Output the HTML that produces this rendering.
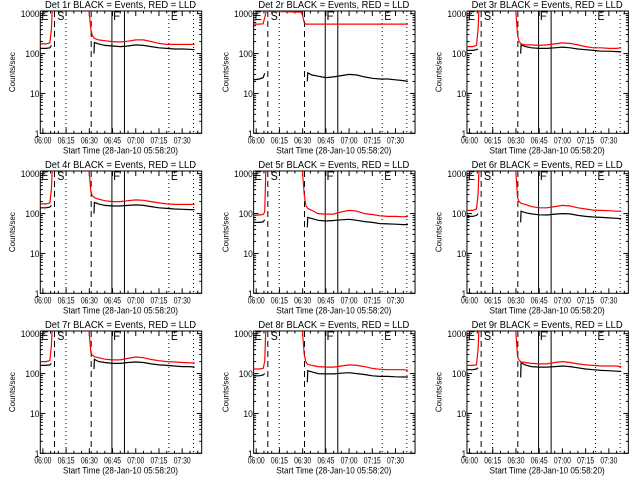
<!DOCTYPE html>
<html><head><meta charset="utf-8"><style>
html,body{margin:0;padding:0;background:#fff;}
svg{display:block;font-family:"Liberation Sans",sans-serif;}
</style></head><body>
<svg id="chart" width="640" height="480" viewBox="0 0 640 480" xmlns="http://www.w3.org/2000/svg">
<rect width="640" height="480" fill="#fff"/>
</svg>
<script>
const times = [-1.7, 2, 4.5, 5.5, 6.5, 29, 30, 31, 32, 33, 33.3, 36, 40, 45, 50, 55, 60, 65, 70, 75, 80, 85, 90, 95, 98];
const detectors = ["1r","2r","3r","4r","5r","6r","7r","8r","9r"];
const red1 = [175,175,185,400,3000,3000,1000,400,280,250,240,220,210,200,195,205,220,220,200,180,170,170,170,170,170];
const blk1 = [135,135,140,160,null,null,null,null,null,100,190,175,160,155,150,155,165,160,150,140,135,130,130,128,125];
const red2 = [550,550,560,800,1150,1100,900,600,550,550,550,550,550,550,550,550,550,550,550,550,550,550,550,550,550];
const blk2 = [22,23,25,32,null,null,null,null,null,20,33,29,27,25,26,28,30,29,26,24,23,23,22,21,20];
const red3 = [150,150,160,400,3000,3000,1000,300,200,180,175,165,165,160,165,175,185,180,165,150,140,140,135,135,140];
const blk3 = [120,120,125,130,null,null,null,null,null,100,165,150,140,135,135,140,145,140,130,125,120,115,115,112,110];
const red4 = [175,175,185,400,3000,3000,1000,350,280,260,250,230,210,200,200,210,220,215,200,185,175,170,170,170,170];
const blk4 = [140,140,145,160,null,null,null,null,null,100,190,175,160,155,155,160,165,160,150,140,135,130,128,126,125];
const red5 = [90,92,95,110,3000,3000,1000,300,160,140,135,120,100,97,97,110,120,115,100,95,88,85,85,83,85];
const blk5 = [60,60,62,70,null,null,null,null,null,45,80,75,68,65,67,70,72,68,63,60,56,55,54,53,53];
const red6 = [120,120,130,300,3000,3000,1000,250,200,185,180,170,150,140,140,150,160,155,140,130,122,120,118,115,115];
const blk6 = [85,85,90,100,null,null,null,null,null,60,115,105,98,93,92,97,100,98,90,85,82,80,78,76,75];
const red7 = [200,200,210,500,3000,3000,1000,330,290,270,265,250,230,220,220,240,260,250,225,210,200,195,190,185,185];
const blk7 = [160,160,165,180,null,null,null,null,null,130,230,200,190,180,180,190,195,190,175,165,160,155,150,150,145];
const red8 = [130,130,135,200,3000,3000,1000,300,200,175,170,160,150,145,145,155,165,160,150,135,128,125,125,125,120];
const blk8 = [88,88,92,100,null,null,null,null,null,60,118,110,100,98,98,102,105,100,95,88,85,85,83,82,82];
const red9 = [160,160,165,400,3000,3000,1000,260,220,200,198,190,180,175,175,190,200,190,175,165,160,155,155,155,150];
const blk9 = [125,125,130,140,null,null,null,null,null,80,185,165,150,145,145,150,155,150,140,130,125,120,118,115,113];
const redSeries = [red1,red2,red3,red4,red5,red6,red7,red8,red9];
const blackSeries = [blk1,blk2,blk3,blk4,blk5,blk6,blk7,blk8,blk9];
const xTickMinutes = [0,15,30,45,60,75,90];
const xTickLabels = ["06:00","06:15","06:30","06:45","07:00","07:15","07:30"];
const yTickValues = [1,10,100,1000];
const yTickLabels = ["1","10","100","1000"];
const dashedLines = [7.5, 31.2];
const dottedLines = [14.9, 81.4, 97.3];
const solidLines = [44.6, 52.7];
const markerLetters = ["E","S","F","E"];
const markerMinutes = [-1.0, 9.4, 45.4, 82.7];

const NS = "http://www.w3.org/2000/svg";
const svg = document.getElementById("chart");
const L = 40.3, R = 201.7, T = 11, B = 133.3;
const XMIN = -1.667, XMAX = 102.6, YMIN = 0, YMAX = Math.log10(1170);
function xs(t){ return L + (t - XMIN) / (XMAX - XMIN) * (R - L); }
function ys(v){ return B - (Math.log10(v) - YMIN) / (YMAX - YMIN) * (B - T); }
function mk(tag, attrs, parent){
  const e = document.createElementNS(NS, tag);
  for (const k in attrs) e.setAttribute(k, attrs[k]);
  parent.appendChild(e);
  return e;
}
const defs = mk("defs", {}, svg);
const cp = mk("clipPath", {id:"plotclip"}, defs);
mk("rect", {x:L, y:T, width:R-L, height:B-T}, cp);

detectors.forEach((det, i) => {
  const col = i % 3, row = Math.floor(i / 3);
  const g = mk("g", {transform:`translate(${(col*213.33).toFixed(2)},${row*160})`}, svg);
  
  

  const title = mk("text", {x:45, y:8, "font-size":"10", textLength:"151", lengthAdjust:"spacingAndGlyphs", fill:"#000"}, g);
  title.textContent = "Det " + det + " BLACK = Events, RED = LLD";
  
  

  const box = mk("rect", {x:L, y:T, width:R-L, height:B-T, fill:"none", stroke:"#000", "stroke-width":"1"}, g);
  
  

  yTickValues.forEach((v, k) => {
    const y = ys(v);
    mk("line", {x1:L, x2:L+5, y1:y, y2:y, stroke:"#000"}, g);
    mk("line", {x1:R-5, x2:R, y1:y, y2:y, stroke:"#000"}, g);
    const w = yTickLabels[k].length * 4.7;
    const lab = mk("text", {x:39.5 - w, y:y+3.5, "font-size":"9", textLength:w.toFixed(1), lengthAdjust:"spacingAndGlyphs", fill:"#000"}, g);
    lab.textContent = yTickLabels[k];
    
    
    if (k < yTickValues.length - 1) {
      for (let m = 2; m <= 9; m++) {
        const ym = ys(v * m);
        mk("line", {x1:L, x2:L+2.5, y1:ym, y2:ym, stroke:"#000"}, g);
        mk("line", {x1:R-2.5, x2:R, y1:ym, y2:ym, stroke:"#000"}, g);
      }
    }
  });
  for (let m = 0; m <= 100; m += 5) {
    const x = xs(m);
    const len = (m % 15 === 0) ? 5 : 2.5;
    mk("line", {x1:x, x2:x, y1:B, y2:B-len, stroke:"#000"}, g);
    mk("line", {x1:x, x2:x, y1:T, y2:T+len, stroke:"#000"}, g);
  }
  xTickMinutes.forEach((m, k) => {
    const lab = mk("text", {x:xs(m)-8.5, y:B+10, "font-size":"9", textLength:"17", lengthAdjust:"spacingAndGlyphs", fill:"#000"}, g);
    lab.textContent = xTickLabels[k];
    
    
  });
  const xt = mk("text", {x:63, y:B+20, "font-size":"9.5", textLength:"115", lengthAdjust:"spacingAndGlyphs", fill:"#000"}, g);
  xt.textContent = "Start Time (28-Jan-10 05:58:20)";
  
  
  const yt = mk("text", {x:-20, y:0, "font-size":"8.5", textLength:"40", lengthAdjust:"spacingAndGlyphs", fill:"#000", transform:`translate(15,${(T+B)/2}) rotate(-90)`}, g);
  yt.textContent = "Counts/sec";
  
  

  dashedLines.forEach(m => {
    const l = mk("line", {x1:xs(m), x2:xs(m), y1:T, y2:B, stroke:"#000", "stroke-dasharray":"6,4"}, g);
    
    
  });
  dottedLines.forEach(m => {
    const l = mk("line", {x1:xs(m), x2:xs(m), y1:T, y2:B, stroke:"#000", "stroke-dasharray":"1,3"}, g);
    
    
  });
  solidLines.forEach(m => {
    const l = mk("line", {x1:xs(m), x2:xs(m), y1:T, y2:B, stroke:"#000"}, g);
    
    
  });

  function drawSeries(vals, color, name){
    let segs = [], cur = [];
    vals.forEach((v, k) => {
      if (v === null) { if (cur.length) segs.push(cur); cur = []; }
      else cur.push(xs(times[k]).toFixed(1) + "," + ys(v).toFixed(1));
    });
    if (cur.length) segs.push(cur);
    segs.forEach(s => {
      const p = mk("polyline", {points:s.join(" "), fill:"none", stroke:color, "stroke-width":"1.2", "clip-path":"url(#plotclip)"}, g);
      
      
    });
  }
  drawSeries(blackSeries[i], "#000", "events-line");
  drawSeries(redSeries[i], "#ff0000", "lld-line");

  markerLetters.forEach((c, k) => {
    const t = mk("text", {x:xs(markerMinutes[k]), y:20, "font-size":"11.5", textLength:"7", lengthAdjust:"spacingAndGlyphs", fill:"#000"}, g);
    t.textContent = c;
    
    
  });
});
</script>
</body></html>
